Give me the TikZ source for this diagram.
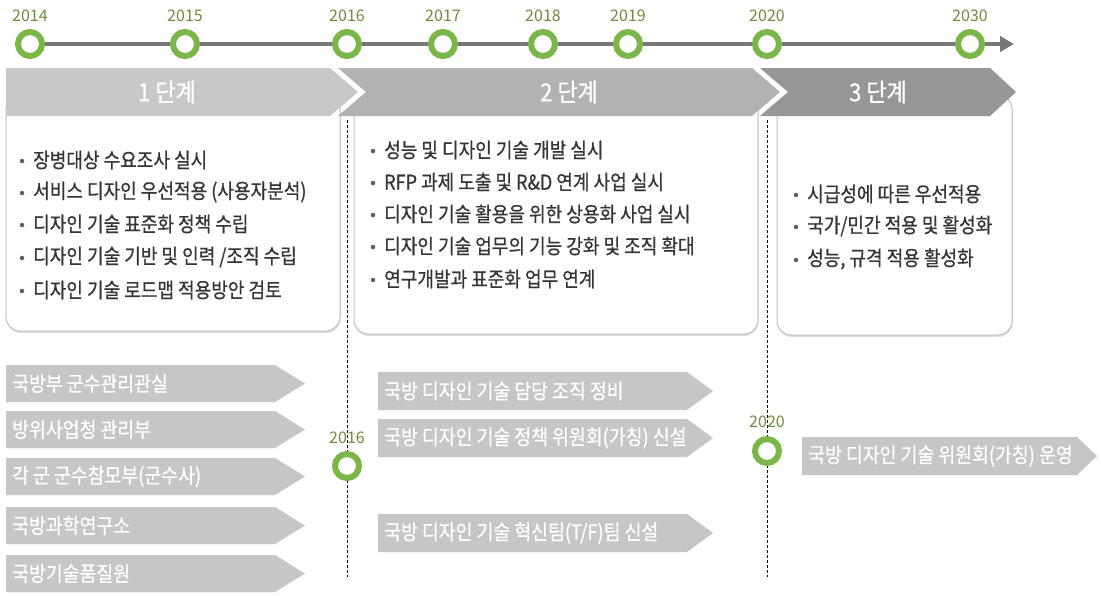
\documentclass[tikz,border=0pt]{standalone}
\usepackage{fontspec}
\setmainfont{Noto Sans CJK KR}
\newfontfamily\medfont{Noto Sans CJK KR}[FakeBold=0.6,FakeStretch=0.88]
\usetikzlibrary{arrows.meta,shadows}
\definecolor{ringgreen}{HTML}{7AB648}
\definecolor{yeargreen}{HTML}{6B8E3A}
\definecolor{axisgray}{HTML}{777777}
\definecolor{ph1}{HTML}{C8C8C8}
\definecolor{ph2}{HTML}{B2B2B2}
\definecolor{ph3}{HTML}{979797}
\definecolor{tagfill}{HTML}{C6C6C6}
\definecolor{txt}{HTML}{353535}
\tikzset{
  ring/.style={circle,draw=ringgreen,line width=6pt,fill=white,minimum size=24pt,inner sep=0pt},
  yearlbl/.style={text=yeargreen,font=\fontsize{16}{18}\selectfont},
  phaselbl/.style={text=white,font=\medfont\fontsize{25}{27}\selectfont},
  itemtxt/.style={text=txt,font=\medfont\fontsize{20.5}{22}\selectfont,anchor=west,inner sep=0pt},
  bul/.style={circle,fill=txt!80,minimum size=4.5pt,inner sep=0pt},
  tagtxt/.style={text=white,font=\medfont\fontsize{20.8}{22}\selectfont,anchor=west,inner sep=0pt},
  cardbox/.style={draw=black!25,line width=1pt,fill=white,rounded corners=14pt,
     drop shadow={opacity=0.25,shadow xshift=0.5pt,shadow yshift=-2pt}},
  vdash/.style={draw=black,line width=0.7pt,dash pattern=on 3pt off 2pt},
}
\newcommand\gtag[7]{% name, x1, y1, x2(tip), y2, depth, text
  \fill[tagfill] (#2,#3) -- ({#4-#6},#3) -- (#4,{(#3+#5)/2}) -- ({#4-#6},#5) -- (#2,#5) -- cycle;
  \node[tagtxt] (#1) at ({#2+6},{(#3+#5)/2}) {#7};}
\newcommand\bitem[4]{% name, x, y, text
  \node[bul] (#1b) at (#2,{#3+1}) {};
  \node[itemtxt] (#1) at ({#2+11},#3) {#4};}
\begin{document}
\begin{tikzpicture}[x=1pt,y=-1pt]
\useasboundingbox (0,0) rectangle (1101,595);
\fill[white] (0,0) rectangle (1101,595);

% dashed verticals
\coordinate (d1a) at (347,120); \coordinate (d1b) at (347,577);
\coordinate (d2a) at (767,120); \coordinate (d2b) at (767,577);
\draw[vdash] (d1a) -- (d1b);
\draw[vdash] (d2a) -- (d2b);

% cards
\path[cardbox] (6,95) rectangle (340,331);
\path[cardbox] (354,95) rectangle (758,334);
\path[cardbox] (777,95) rectangle (1012,335);

% phase bar
\fill[ph1] (6,68) -- (330,68) -- (358,92) -- (330,116) -- (6,116) -- cycle;
\fill[ph2] (338,68) -- (752,68) -- (780,92) -- (752,116) -- (338,116) -- (366,92) -- cycle;
\fill[ph3] (760,68) -- (990,68) -- (1016,92) -- (990,116) -- (760,116) -- (788,92) -- cycle;
\node[phaselbl] (p1) at (167,92) {1 단계};
\node[phaselbl] (p2) at (569,92) {2 단계};
\node[phaselbl] (p3) at (878,92) {3 단계};

% timeline
\coordinate (tstart) at (30,44);
\coordinate (tend) at (1014,44);
\draw[axisgray,line width=4pt,-{Triangle[length=14pt,width=15pt]}] (tstart) -- (tend);
\foreach \yr/\xx in {2014/30,2015/185,2016/347,2017/443,2018/543,2019/628,2020/767,2030/970}{
  \node[ring] (c\yr) at (\xx,44) {};
  \node[yearlbl] (y\yr) at (\xx,16) {\yr};
}

% card 1 items
\bitem{a1}{22}{160}{장병대상 수요조사 실시}
\bitem{a2}{22}{192}{서비스 디자인 우선적용 (사용자분석)}
\bitem{a3}{22}{224}{디자인 기술 표준화 정책 수립}
\bitem{a4}{22}{257}{디자인 기술 기반 및 인력 /조직 수립}
\bitem{a5}{22}{290}{디자인 기술 로드맵 적용방안 검토}
% card 2 items
\bitem{b1}{373}{150}{성능 및 디자인 기술 개발 실시}
\bitem{b2}{373}{182}{RFP 과제 도출 및 R\&D 연계 사업 실시}
\bitem{b3}{373}{214}{디자인 기술 활용을 위한 상용화 사업 실시}
\bitem{b4}{373}{246}{디자인 기술 업무의 기능 강화 및 조직 확대}
\bitem{b5}{373}{279}{연구개발과 표준화 업무 연계}
% card 3 items
\bitem{c1}{796}{194}{시급성에 따른 우선적용}
\bitem{c2}{796}{226}{국가/민간 적용 및 활성화}
\bitem{c3}{796}{259}{성능, 규격 적용 활성화}

% left tags
\gtag{t1}{6}{365}{305}{402}{30}{국방부 군수관리관실}
\gtag{t2}{6}{411}{305}{448}{30}{방위사업청 관리부}
\gtag{t3}{6}{458}{305}{495}{30}{각 군 군수참모부(군수사)}
\gtag{t4}{6}{507}{305}{544}{30}{국방과학연구소}
\gtag{t5}{6}{555}{305}{592}{30}{국방기술품질원}

% middle tags
\gtag{m1}{378}{372}{713}{410}{26}{국방 디자인 기술 담당 조직 정비}
\gtag{m2}{378}{419}{713}{457}{26}{국방 디자인 기술 정책 위원회(가칭) 신설}
\gtag{m3}{378}{514}{713}{552}{26}{국방 디자인 기술 혁신팀(T/F)팀 신설}

% right tag
\gtag{r1}{802}{437}{1097}{475}{20}{국방 디자인 기술 위원회(가칭) 운영}

% lower milestone rings
\node[ring] (lc2016) at (347,466) {};
\node[yearlbl] (ly2016) at (347,438) {2016};
\node[ring] (lc2020) at (767,451) {};
\node[yearlbl] (ly2020) at (767,422) {2020};
\end{tikzpicture}
\end{document}
